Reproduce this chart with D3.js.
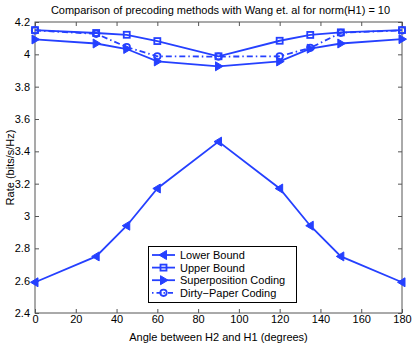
<!DOCTYPE html>
<html>
<head>
<meta charset="utf-8">
<script src="https://cdn.jsdelivr.net/npm/d3@7"></script>
<style>
  body { margin: 0; background: #fff; }
  text { font-family: "Liberation Sans", Arial, sans-serif; }
</style>
</head>
<body>
<svg id="chart"></svg>
<script>
// Rate vs angle between channel vectors, four precoding schemes

const angles = [0, 30, 45, 60, 90, 120, 135, 150, 180];
const lowerBound = [2.59, 2.75, 2.94, 3.17, 3.46, 3.17, 2.94, 2.75, 2.59];
const upperBound = [4.15, 4.132, 4.121, 4.082, 3.988, 4.084, 4.12, 4.136, 4.15];
const superposition = [4.092, 4.067, 4.033, 3.956, 3.926, 3.956, 4.035, 4.067, 4.094];
const dirtyPaper = [4.148, 4.127, 4.045, 3.988, 3.986, 3.988, 4.04, 4.133, 4.148];

const xTicks = [0, 20, 40, 60, 80, 100, 120, 140, 160, 180];
const yTicks = [2.4, 2.6, 2.8, 3, 3.2, 3.4, 3.6, 3.8, 4, 4.2];

const width = 415, height = 343;
const margin = { top: 22, right: 13, bottom: 30, left: 35 };
const blue = "#2540ff";
const axisColor = "#555";

const svg = d3.select("#chart")
    .attr("width", width)
    .attr("height", height);

const x = d3.scaleLinear().domain([0, 180]).range([margin.left, width - margin.right]);
const y = d3.scaleLinear().domain([2.4, 4.2]).range([height - margin.bottom, margin.top]);

// frame
svg.append("rect")
    .attr("x", x(0)).attr("y", y(4.2))
    .attr("width", x(180) - x(0)).attr("height", y(2.4) - y(4.2))
    .attr("fill", "none").attr("stroke", axisColor).attr("stroke-width", 1);

const axisStyle = g => {
    g.select(".domain").remove();
    g.selectAll(".tick line").attr("stroke", axisColor);
    g.selectAll(".tick text").attr("fill", "#000").attr("font-size", 11)
        .style("font-family", "Liberation Sans, Arial, sans-serif");
};

svg.append("g")
    .attr("transform", `translate(0,${y(2.4)})`)
    .call(d3.axisBottom(x).tickValues(xTicks).tickSizeInner(-4).tickPadding(2))
    .call(axisStyle);
svg.append("g")
    .attr("transform", `translate(0,${y(4.2)})`)
    .call(d3.axisTop(x).tickValues(xTicks).tickSizeInner(-4).tickFormat(""))
    .call(axisStyle);
svg.append("g")
    .attr("transform", `translate(${x(0)},0)`)
    .call(d3.axisLeft(y).tickValues(yTicks).tickSizeInner(-4).tickPadding(5).tickFormat(d3.format("~g")))
    .call(axisStyle);
svg.append("g")
    .attr("transform", `translate(${x(180)},0)`)
    .call(d3.axisRight(y).tickValues(yTicks).tickSizeInner(-4).tickFormat(""))
    .call(axisStyle);

// labels
svg.append("text")
    .attr("x", (x(0) + x(180)) / 2 + 2).attr("y", 14)
    .attr("text-anchor", "middle").attr("font-size", 11)
    .text("Comparison of precoding methods with Wang et. al for norm(H1) = 10");
svg.append("text")
    .attr("x", (x(0) + x(180)) / 2).attr("y", 341)
    .attr("text-anchor", "middle").attr("font-size", 11)
    .text("Angle between H2 and H1 (degrees)");
svg.append("text")
    .attr("transform", `translate(14,${(y(2.4) + y(4.2)) / 2}) rotate(-90)`)
    .attr("text-anchor", "middle").attr("font-size", 11)
    .text("Rate (bits/s/Hz)");

const series = [
    { name: "Lower Bound", values: lowerBound, marker: "left", dash: null },
    { name: "Upper Bound", values: upperBound, marker: "square", dash: null },
    { name: "Superposition Coding", values: superposition, marker: "right", dash: null },
    { name: "Dirty\u2212Paper Coding", values: dirtyPaper, marker: "circle", dash: "6,3,1.5,3" }
];

const line = d3.line().x(d => x(d[0])).y(d => y(d[1]));

function drawMarker(g, kind, cx, cy) {
    if (kind === "left") {
        g.append("path").attr("d", `M${cx - 4.5},${cy} L${cx + 3},${cy - 4.5} L${cx + 3},${cy + 4.5} Z`)
            .attr("fill", blue).attr("stroke", blue).attr("stroke-width", 1);
    } else if (kind === "right") {
        g.append("path").attr("d", `M${cx + 4.5},${cy} L${cx - 3},${cy - 4.5} L${cx - 3},${cy + 4.5} Z`)
            .attr("fill", blue).attr("stroke", blue).attr("stroke-width", 1);
    } else if (kind === "square") {
        g.append("rect").attr("x", cx - 3).attr("y", cy - 3).attr("width", 6).attr("height", 6)
            .attr("fill", "none").attr("stroke", blue).attr("stroke-width", 1.8);
    } else {
        g.append("circle").attr("cx", cx).attr("cy", cy).attr("r", 3.2)
            .attr("fill", "none").attr("stroke", blue).attr("stroke-width", 1.8);
    }
}

series.forEach(s => {
    const pts = angles.map((a, i) => [a, s.values[i]]);
    const g = svg.append("g");
    g.append("path")
        .attr("d", line(pts))
        .attr("fill", "none")
        .attr("stroke", blue)
        .attr("stroke-width", 1.8)
        .attr("stroke-dasharray", s.dash);
    pts.forEach(p => drawMarker(g, s.marker, x(p[0]), y(p[1])));
});

// legend
const lg = svg.append("g");
lg.append("rect")
    .attr("x", 148.5).attr("y", 246.5).attr("width", 148).attr("height", 56)
    .attr("fill", "#fff").attr("stroke", "#000").attr("stroke-width", 1);
series.forEach((s, i) => {
    const ly = 255 + i * 12.6;
    lg.append("line")
        .attr("x1", 152).attr("x2", 175).attr("y1", ly).attr("y2", ly)
        .attr("stroke", blue).attr("stroke-width", 1.8)
        .attr("stroke-dasharray", s.dash ? "1.5,3,5,2" : null);
    drawMarker(lg, s.marker, 163.5, ly);
    lg.append("text")
        .attr("x", 180).attr("y", ly + 4)
        .attr("font-size", 11)
        .text(s.name);
});
</script>
</body>
</html>
